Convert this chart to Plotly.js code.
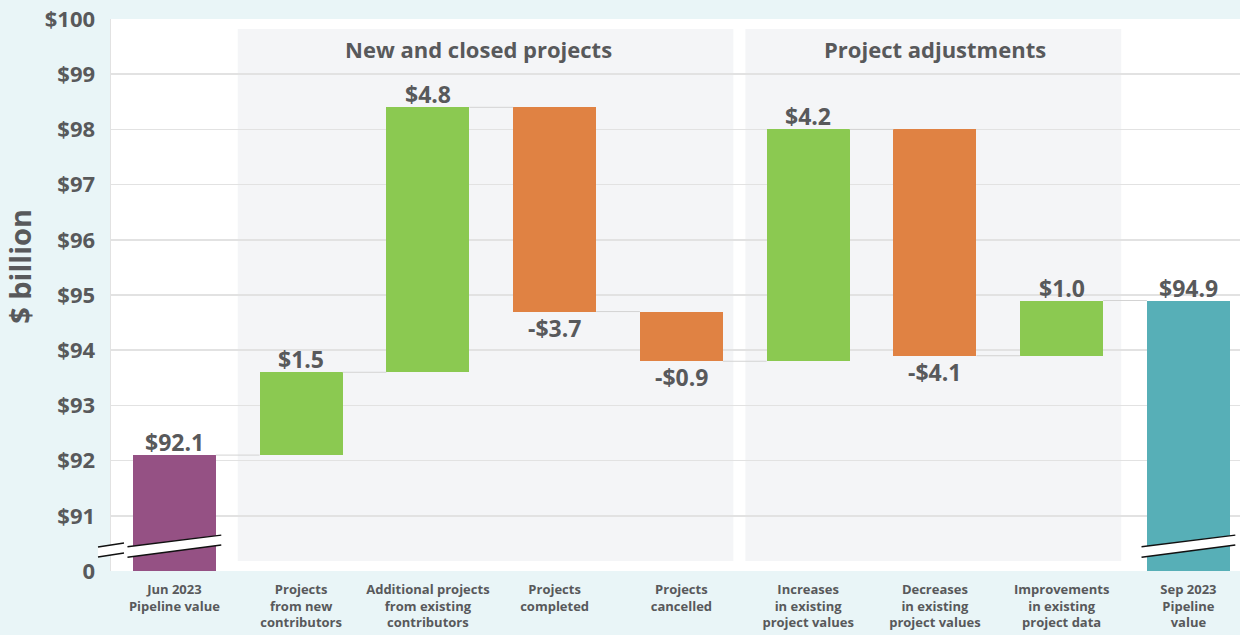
<!DOCTYPE html>
<html>
<head>
<meta charset="utf-8">
<script src="https://cdn.plot.ly/plotly-3.0.1.min.js"></script>
<style>
html,body{margin:0;padding:0;background:#e9f5f7;}
#chart{width:1240px;height:635px;}
</style>
</head>
<body>
<div id="chart"></div>
<script>
// ---- data ----
var categories = [
  "Jun 2023<br>Pipeline value",
  "Projects<br>from new<br>contributors",
  "Additional projects<br>from existing<br>contributors",
  "Projects<br>completed",
  "Projects<br>cancelled",
  "Increases<br>in existing<br>project values",
  "Decreases<br>in existing<br>project values",
  "Improvements<br>in existing<br>project data",
  "Sep 2023<br>Pipeline<br>value"
];
var values = [92.1, 1.5, 4.8, -3.7, -0.9, 4.2, -4.1, 1.0, 94.9];
var measures = ["absolute", "relative", "relative", "relative", "relative", "relative", "relative", "relative", "total"];
var barColors = ["#955184", "#8bc951", "#8bc951", "#e08243", "#e08243", "#8bc951", "#e08243", "#8bc951", "#57afb7"];
var groupNames = ["New and closed projects", "Project adjustments"];
var yTickVals = [90, 91, 92, 93, 94, 95, 96, 97, 98, 99, 100];
var yTickText = ["0", "$91", "$92", "$93", "$94", "$95", "$96", "$97", "$98", "$99", "$100"];
var yTitle = "$ billion";
var axisFloor = 90;

// ---- derived ----
var xIdx = categories.map(function(_, i){ return i; });
var bases = [], heights = [], tops = [], bottoms = [], running = [];
var total = 0;
values.forEach(function(v, i){
  var m = measures[i];
  if (m === "absolute" || m === "total") {
    total = v;
    bases.push(axisFloor); heights.push(v - axisFloor);
    bottoms.push(axisFloor); tops.push(v);
  } else {
    var start = total;
    total = start + v;
    var lo = Math.min(start, total), hi = Math.max(start, total);
    bases.push(lo); heights.push(hi - lo);
    bottoms.push(lo); tops.push(hi);
  }
  running.push(total);
});

var barW = 0.655;
var fontFam = '"Open Sans", Lato, sans-serif';
var txtColor = "#58595b";

var shapes = [];
var annotations = [];

// group shading
var gBounds = [[0.5, 4.41], [4.505, 7.47]];
var gTitleX = [2.40, 6.0];
gBounds.forEach(function(b, k){
  shapes.push({type: "rect", layer: "below", xref: "x", yref: "y",
    x0: b[0], x1: b[1], y0: 90.18, y1: 99.82,
    fillcolor: "#f4f5f7", line: {width: 0}});
  annotations.push({xref: "x", yref: "y", x: gTitleX[k], y: 99.45, text: groupNames[k], showarrow: false,
    font: {family: fontFam, size: 22, color: txtColor, weight: 700}});
});

// connectors
for (var i = 0; i < values.length - 1; i++) {
  shapes.push({type: "line", layer: "above", xref: "x", yref: "y",
    x0: i + barW / 2, x1: i + 1 - barW / 2, y0: running[i], y1: running[i],
    line: {color: "#d3d3d3", width: 1}});
}

// value labels
values.forEach(function(v, i){
  var m = measures[i];
  var txt;
  if (m === "relative") {
    txt = (v < 0 ? "-$" : "$") + Math.abs(v).toFixed(1);
  } else {
    txt = "$" + v.toFixed(1);
  }
  var neg = (m === "relative" && v < 0);
  annotations.push({xref: "x", yref: "y", x: i, y: neg ? bottoms[i] : tops[i],
    yanchor: neg ? "top" : "bottom", yshift: neg ? 2 : -5, text: txt, showarrow: false,
    font: {family: fontFam, size: 23, color: txtColor, weight: 700}});
});

// y-axis title
annotations.push({xref: "paper", yref: "paper", x: -0.0806, y: 0.551, xanchor: "center", yanchor: "middle",
  textangle: -90, text: yTitle, showarrow: false,
  font: {family: fontFam, size: 29, color: txtColor, weight: 700}});

// axis break marks
function breakMark(xref, x0, x1, yl0, yl1, yu0, yu1) {
  shapes.push({type: "path", layer: "above", xref: xref, yref: "y",
    path: "M" + x0 + "," + yl0 + " L" + x1 + "," + yl1 + " L" + x1 + "," + yu1 + " L" + x0 + "," + yu0 + " Z",
    fillcolor: "#ffffff", line: {width: 0}});
  shapes.push({type: "line", layer: "above", xref: xref, yref: "y", x0: x0, x1: x1, y0: yl0, y1: yl1,
    line: {color: "#111111", width: 1.5}});
  shapes.push({type: "line", layer: "above", xref: xref, yref: "y", x0: x0, x1: x1, y0: yu0, y1: yu1,
    line: {color: "#111111", width: 1.5}});
}
[0, values.length - 1].forEach(function(i){
  breakMark("x", i - 0.37, i + 0.37, 90.25, 90.47, 90.44, 90.65);
});
breakMark("paper", -0.0115, 0.0115, 90.254, 90.326, 90.435, 90.507);

var trace = {
  type: "bar",
  x: xIdx,
  y: heights,
  base: bases,
  width: barW,
  marker: {color: barColors, line: {width: 0}},
  hoverinfo: "skip",
  cliponaxis: false
};

var layout = {
  width: 1240, height: 635,
  margin: {l: 111, r: 0, t: 19, b: 64},
  paper_bgcolor: "#e9f5f7",
  plot_bgcolor: "#ffffff",
  showlegend: false,
  bargap: 0,
  xaxis: {
    range: [-0.5, 8.407],
    tickvals: xIdx, ticktext: categories,
    showgrid: false, zeroline: false, showline: false,
    ticks: "outside", ticklen: 6, tickcolor: "rgba(0,0,0,0)",
    tickfont: {family: fontFam, size: 13, color: txtColor, weight: 700},
    fixedrange: true
  },
  yaxis: {
    range: [90, 100],
    tickvals: yTickVals, ticktext: yTickText,
    showgrid: true, gridcolor: "#e2e2e2", gridwidth: 1.5,
    zeroline: false, showline: true, linecolor: "#e2e2e2", linewidth: 1.5,
    ticks: "outside", ticklen: 10, tickcolor: "rgba(0,0,0,0)",
    tickfont: {family: fontFam, size: 22, color: txtColor, weight: 700},
    fixedrange: true
  },
  shapes: shapes,
  annotations: annotations
};

Plotly.newPlot("chart", [trace], layout, {displayModeBar: false, staticPlot: true});
</script>
</body>
</html>
